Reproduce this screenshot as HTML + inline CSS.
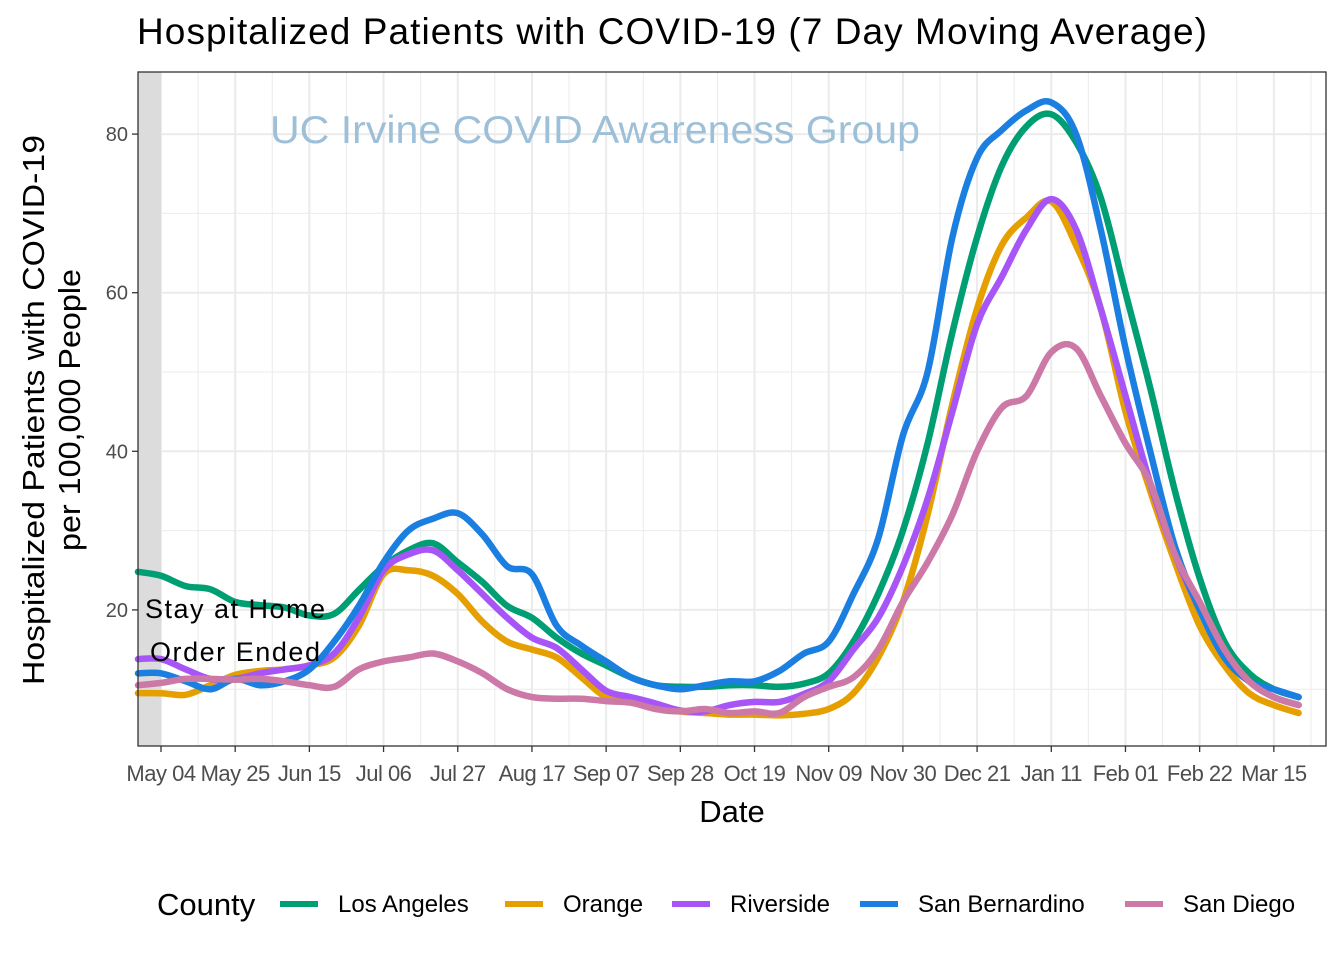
<!DOCTYPE html>
<html><head><meta charset="utf-8">
<style>
body{margin:0;background:#fff;font-family:"Liberation Sans",Arial,sans-serif;}
svg text{font-family:"Liberation Sans",Arial,sans-serif;}
</style></head>
<body>
<svg id="chart" width="1344" height="960" xmlns="http://www.w3.org/2000/svg">
<rect width="1344" height="960" fill="#fff"/>
<text x="137" y="44" font-size="37" fill="#000" textLength="1070" lengthAdjust="spacing">Hospitalized Patients with COVID-19  (7 Day Moving Average)</text>
<g id="grid"></g>
<rect x="138" y="72" width="23" height="674" fill="#dcdcdc"/>
<text x="270" y="143" font-size="39" fill="#9dc0d8" textLength="650" lengthAdjust="spacingAndGlyphs">UC Irvine COVID Awareness Group</text>
<g id="series"></g>
<text x="145" y="618" font-size="27" textLength="180">Stay at Home</text>
<text x="150" y="661" font-size="27" textLength="170">Order Ended</text>
<rect x="138" y="72" width="1188" height="674" fill="none" stroke="#333" stroke-width="1.3"/>
<g id="axes"></g>
<text x="732" y="822" font-size="31" text-anchor="middle">Date</text>
<text transform="translate(44,410) rotate(-90)" font-size="31" text-anchor="middle" textLength="550" lengthAdjust="spacingAndGlyphs">Hospitalized Patients with COVID-19</text>
<text transform="translate(80,410) rotate(-90)" font-size="31" text-anchor="middle" textLength="282" lengthAdjust="spacingAndGlyphs">per 100,000 People</text>
<g id="legend"></g>
</svg>
<script>
const xTickLabels=["May 04","May 25","Jun 15","Jul 06","Jul 27","Aug 17","Sep 07","Sep 28","Oct 19","Nov 09","Nov 30","Dec 21","Jan 11","Feb 01","Feb 22","Mar 15"];
const xTickWeeks=[1,4,7,10,13,16,19,22,25,28,31,34,37,40,43,46];
const yTicks=[20,40,60,80];
const seriesNames=["Los Angeles","Orange","Riverside","San Bernardino","San Diego"];
const seriesColors=["#009e73","#e69f00","#a855f7","#1a7fe0","#cc79a7"];
const losAngeles=[24.8,24.3,23,22.6,21,20.6,20.3,19.3,19.5,22.5,25.5,27.5,28.4,26,23.5,20.5,19,16.5,14.5,13,11.5,10.5,10.3,10.3,10.5,10.5,10.3,10.7,12,16,22,30,41,55,67,76,81,82.5,79,72,60,48,35,24,16,12,10,9];
const orange=[9.5,9.5,9.3,10.5,11.8,12.3,12.5,13,14,18,24.5,25,24.3,22,18.5,16,15,14,11.5,9,8.5,7.8,7.2,7,6.8,6.8,6.7,6.9,7.5,9.5,14,21,32,46,58,66,69.5,71.5,66,58,45,35,26,18,13,9.5,8,7];
const riverside=[13.8,13.8,12.5,11.3,11.3,12,12.5,13,14.5,19,25,27,27.5,25,22,19,16.5,15.2,12.5,9.8,9,8.2,7.3,7.2,8,8.4,8.4,9.4,11,15,19,25.5,34,45,56,62,68,71.8,68,58,47,36,27,20,14,11,9,8];
const sanBernardino=[12,12,11,10,11.3,10.5,11,12.5,16,20.5,26,30,31.5,32.2,29.5,25.5,24.5,18,15.5,13.5,11.5,10.5,10,10.5,11,11,12.3,14.5,16,22,29,42,50,67,77,80.5,83,84,80,68,53,40,28,20,14,11,10,9];
const sanDiego=[10.5,10.8,11.3,11.3,11.2,11.3,11,10.5,10.3,12.5,13.5,14,14.5,13.5,12,10,9,8.8,8.8,8.5,8.3,7.5,7.2,7.5,7,7.2,7,9,10.3,11.5,15,21,26,32,40,45.5,47,52.5,53,47,41,36,27,21,15,11,9,8];
const allSeries=[losAngeles,orange,riverside,sanBernardino,sanDiego];

const NS="http://www.w3.org/2000/svg";
const X0=138,X1=1326,Y0=72,Y1=746;
function xScale(w){return 161+(w-1)*24.73;}
function yScale(v){return 768.5-v*7.93;}
function mk(tag,attrs,parent){const e=document.createElementNS(NS,tag);for(const k in attrs)e.setAttribute(k,attrs[k]);parent.appendChild(e);return e;}

const grid=document.getElementById('grid');
for(let v=10;v<=80;v+=10){const y=yScale(v);if(y<Y0||y>Y1)continue;
 const l=mk('line',{x1:X0,x2:X1,y1:y,y2:y,stroke:'#ebebeb','stroke-width':v%20===0?2:1},grid);
 
 }
for(let i=0;i<xTickWeeks.length;i++){const x=xScale(xTickWeeks[i]);
 const l=mk('line',{x1:x,x2:x,y1:Y0,y2:Y1,stroke:'#ebebeb','stroke-width':2},grid);
 
 
 const xm=xScale(xTickWeeks[i]+1.5);
 if(xm<X1){const m=mk('line',{x1:xm,x2:xm,y1:Y0,y2:Y1,stroke:'#ebebeb','stroke-width':1},grid);
 
 }}

function smoothPath(pts){let d='M'+pts[0][0]+','+pts[0][1];
 for(let i=0;i<pts.length-1;i++){const p0=pts[Math.max(0,i-1)],p1=pts[i],p2=pts[i+1],p3=pts[Math.min(pts.length-1,i+2)];
  const c1x=p1[0]+(p2[0]-p0[0])/6,c1y=p1[1]+(p2[1]-p0[1])/6,c2x=p2[0]-(p3[0]-p1[0])/6,c2y=p2[1]-(p3[1]-p1[1])/6;
  d+=' C'+c1x.toFixed(1)+','+c1y.toFixed(1)+' '+c2x.toFixed(1)+','+c2y.toFixed(1)+' '+p2[0].toFixed(1)+','+p2[1].toFixed(1);}
 return d;}
const sg=document.getElementById('series');
for(let s=0;s<allSeries.length;s++){
 const pts=allSeries[s].map((v,i)=>[Math.max(X0,xScale(i)),yScale(v)]);
 const p=mk('path',{d:smoothPath(pts),fill:'none',stroke:seriesColors[s],'stroke-width':6.5,'stroke-linejoin':'round','stroke-linecap':'round'},sg);
 
 }

const ax=document.getElementById('axes');
for(const v of yTicks){const y=yScale(v);
 mk('line',{x1:132,x2:138,y1:y,y2:y,stroke:'#333','stroke-width':1.3},ax);
 const t=mk('text',{x:128,y:y+7,'font-size':20,fill:'#4d4d4d','text-anchor':'end'},ax);t.textContent=v;
 
 }
for(let i=0;i<xTickWeeks.length;i++){const x=xScale(xTickWeeks[i]);
 mk('line',{x1:x,x2:x,y1:746,y2:752,stroke:'#333','stroke-width':1.3},ax);
 const t=mk('text',{x:x,y:781,'font-size':22,fill:'#4d4d4d','text-anchor':'middle','letter-spacing':'-0.5'},ax);t.textContent=xTickLabels[i];
 
 }

const lg=document.getElementById('legend');
const lt=mk('text',{x:157,y:915,'font-size':31},lg);lt.textContent='County';


const lx=[280,505,672,860,1125];
for(let s=0;s<seriesNames.length;s++){
 const g=mk('g',{},lg);
 
 
 mk('line',{x1:lx[s],x2:lx[s]+38,y1:904,y2:904,stroke:seriesColors[s],'stroke-width':6},g);
 const t=mk('text',{x:lx[s]+58,y:912,'font-size':24},g);t.textContent=seriesNames[s];}
</script>
</body></html>
